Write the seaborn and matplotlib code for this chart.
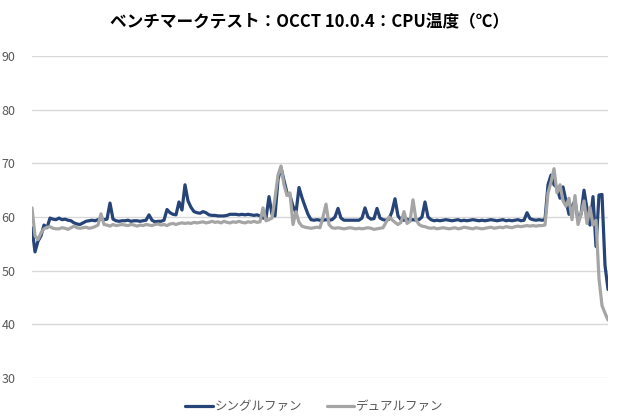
import numpy as np
import pandas as pd
import seaborn as sns
import matplotlib.pyplot as plt

# CPU temperature readings, sampled along the test run
single_fan = [
    58.0, 53.5, 55.5, 56.5, 58.5, 58.0, 59.8, 59.6, 59.5, 59.8,
    59.5, 59.6, 59.4, 59.3, 58.9, 58.7, 58.6, 58.9, 59.2, 59.3,
    59.4, 59.3, 59.5, 59.7, 59.5, 59.6, 62.6, 59.6, 59.3, 59.2,
    59.3, 59.3, 59.4, 59.2, 59.3, 59.3, 59.2, 59.3, 59.4, 60.4,
    59.4, 59.1, 59.2, 59.2, 59.4, 61.4, 60.8, 60.5, 60.4, 62.8,
    61.3, 66.0, 63.0, 61.8, 61.0, 60.8, 60.7, 61.0, 60.8, 60.4,
    60.3, 60.3, 60.2, 60.2, 60.2, 60.3, 60.5, 60.5, 60.5, 60.4,
    60.5, 60.4, 60.5, 60.4, 60.3, 60.4, 60.2, 59.8, 59.8, 63.8,
    60.5, 60.2, 67.0, 69.2, 66.8, 64.5, 64.0, 62.0, 60.8, 65.5,
    63.6, 62.0, 60.5, 59.5, 59.4, 59.5, 59.4, 59.4, 59.5, 59.4,
    59.5, 60.0, 61.6, 59.8, 59.4, 59.4, 59.4, 59.4, 59.4, 59.4,
    59.8, 61.7, 60.0, 59.6, 59.7, 61.6, 59.8, 59.5, 59.4, 59.6,
    61.0, 63.4, 60.2, 59.5, 59.4, 59.6, 59.4, 59.5, 59.4, 59.5,
    60.0, 62.8, 60.0, 59.5, 59.3, 59.4, 59.3, 59.4, 59.5, 59.4,
    59.3, 59.4, 59.5, 59.3, 59.4, 59.3, 59.4, 59.5, 59.4, 59.3,
    59.4, 59.3, 59.4, 59.5, 59.4, 59.3, 59.4, 59.5, 59.3, 59.4,
    59.3, 59.4, 59.5, 59.3, 59.4, 60.8, 59.7, 59.5, 59.4, 59.5,
    59.4, 59.5, 66.0, 67.8, 66.0, 65.5, 63.5, 65.6, 63.0, 60.5,
    62.0, 63.0, 59.4, 60.5, 65.0, 61.5, 58.5, 63.8, 54.5, 64.1,
    64.2, 51.0, 46.5,
]
dual_fan = [
    61.7, 56.5, 55.8, 57.0, 57.8, 58.1, 58.2, 57.9, 57.8, 57.8,
    58.0, 57.9, 57.7, 58.0, 58.3, 58.0, 57.9, 58.0, 58.1, 57.9,
    58.0, 58.2, 58.5, 60.6, 58.6, 58.5, 58.3, 58.6, 58.4, 58.5,
    58.6, 58.5, 58.4, 58.6, 58.5, 58.3, 58.5, 58.4, 58.6, 58.5,
    58.4, 58.6, 58.7, 58.5, 58.6, 58.4, 58.7, 58.8, 58.6, 58.8,
    58.9, 58.8, 58.9, 58.8, 59.0, 58.9, 59.0, 59.1, 58.9, 59.0,
    59.2, 59.0, 59.1, 58.9, 59.2, 59.0, 58.9, 59.1, 59.0, 59.2,
    59.0, 58.9, 59.1, 59.0, 59.2, 59.0, 59.1, 61.7, 59.3, 59.5,
    59.8, 63.5, 67.8, 69.5, 66.0, 64.0, 64.5, 58.6, 61.0, 59.0,
    58.3, 58.1, 58.0, 57.9, 58.0, 58.1, 58.0, 60.0, 62.4, 58.6,
    58.0, 57.9, 58.0, 57.9, 57.8, 57.9, 58.0, 57.9, 57.8, 57.9,
    57.8, 57.9, 58.0, 57.9, 57.7, 57.8, 57.9, 58.0, 59.0, 60.0,
    59.5, 59.0, 58.6, 59.0, 61.0, 58.8, 59.2, 63.2, 59.5, 58.6,
    58.3, 58.2, 58.0, 57.9, 58.0, 57.8, 57.9, 58.0, 57.9, 57.8,
    57.9, 58.0, 57.8, 57.9, 58.1, 58.0, 57.9, 57.8, 58.0, 57.9,
    57.8, 57.9, 58.0, 58.1, 57.9, 58.0, 58.1, 58.0, 58.2, 58.1,
    58.0, 58.2, 58.3, 58.2, 58.3, 58.4, 58.3, 58.4, 58.3, 58.4,
    58.4, 58.5, 64.5, 66.5, 69.0, 64.5, 66.0, 63.0, 62.0, 63.5,
    59.5, 64.0, 58.6, 60.5, 63.0, 58.8, 61.8, 58.5, 59.4, 48.5,
    43.5, 42.1, 40.8,
]
series_names = ["シングルファン", "デュアルファン"]
colors = ["#264478", "#A5A5A5"]
y_ticks = [30, 40, 50, 60, 70, 80, 90]
title = "ベンチマークテスト：OCCT 10.0.4：CPU温度（℃）"

sample = np.arange(len(single_fan))
df = pd.concat([
    pd.DataFrame({"sample": sample, "temp": single_fan, "fan": series_names[0]}),
    pd.DataFrame({"sample": sample, "temp": dual_fan, "fan": series_names[1]}),
])

sns.set_style("white")
plt.rcParams["font.family"] = ["Noto Sans CJK JP", "DejaVu Sans"]

fig = plt.figure(figsize=(6.2, 4.2), dpi=100)
ax = fig.add_axes([32 / 620, 1 - 378 / 420, 576 / 620, 322 / 420])

sns.lineplot(data=df, x="sample", y="temp", hue="fan", hue_order=series_names,
             palette=colors, linewidth=2.3, ax=ax)

ax.set_xlim(sample[0], sample[-1])
ax.set_ylim(y_ticks[0], y_ticks[-1])
ax.set_yticks(y_ticks)
ax.set_xticks([])
ax.set_xlabel("")
ax.set_ylabel("")
ax.grid(axis="y", color="#D9D9D9", linewidth=1)
ax.set_axisbelow(True)
for s in ax.spines.values():
    s.set_visible(False)
ax.tick_params(axis="y", length=0, labelsize=9, labelcolor="#595959", pad=12)

sns.move_legend(ax, "upper center", bbox_to_anchor=(0.49, -0.035), ncol=2,
                title=None, frameon=False, fontsize=9, handlelength=2.2,
                columnspacing=2.0, handletextpad=0.1)
for t in ax.get_legend().get_texts():
    t.set_color("#595959")

fig.text(0.5, 1 - 22 / 420, title, ha="center", va="center",
         fontsize=12, fontweight="bold", color="black")

fig.savefig("out.png", dpi=100)
